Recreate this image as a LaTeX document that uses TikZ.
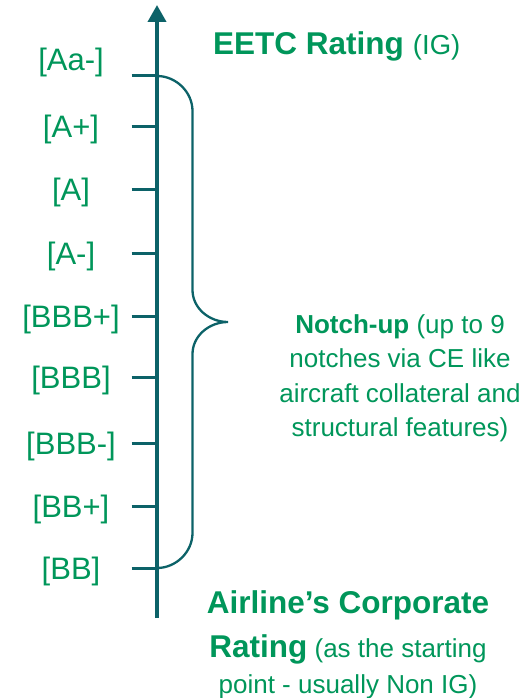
\documentclass[tikz,border=0pt]{standalone}
\usepackage{fontspec}
\setmainfont{Liberation Sans}
\usetikzlibrary{arrows.meta}
\definecolor{axcol}{RGB}{12,98,104}
\definecolor{txtcol}{RGB}{0,150,90}
\begin{document}
\begin{tikzpicture}[x=1pt,y=-1pt,
  lbl/.style={text=txtcol,font=\fontsize{31}{36}\selectfont,anchor=base,inner sep=0pt},
  tickline/.style={draw=axcol,line width=3pt},
  axisline/.style={draw=axcol,line width=3.8pt},
  braceline/.style={draw=axcol,line width=2.3pt},
  txt/.style={text=txtcol,inner sep=0pt},
  big/.style={font=\fontsize{26}{34.5}\selectfont}
]
\useasboundingbox (0,0) rectangle (527,698);
% axis
\coordinate (axb) at (157,618);
\coordinate (axt) at (157,5);
\draw[axisline,-{Triangle[width=18pt,length=17pt]}] (axb) -- (axt);
% ticks and labels
\foreach \n/\y/\by/\t in {1/76/71/{[Aa-]},2/126/137/{[A+]},3/189/200/{[A]},4/253/264/{[A-]},5/316/327/{[BBB+]},6/377/388/{[BBB]},7/443/454/{[BBB-]},8/506/517/{[BB+]},9/568/579/{[BB]}}{
  \coordinate (s\n) at (131.5,\y);
  \coordinate (t\n) at (157,\y);
  \draw[tickline] (s\n) -- (t\n);
  \node[lbl] (l\n) at (71,\by) {\t};
}
% brace
\coordinate (bt) at (228,322);
\draw[braceline] (t1) .. controls (176,76) and (192.5,92) .. (192.5,111)
  -- (192.5,290) .. controls (192.5,308) and (209,322) .. (bt)
  .. controls (209,322) and (192.5,336) .. (192.5,354)
  -- (192.5,533) .. controls (192.5,552) and (176,568) .. (t9);
% texts
\node[txt,anchor=base west] (eetc) at (213,55)
  {{\fontsize{31.5}{36}\selectfont\bfseries EETC Rating}\hspace{9pt}{\fontsize{27.5}{30}\selectfont(IG)}};
\node[txt,big,align=center,anchor=north] (notch) at (400,314)
  {{\bfseries Notch-up} (up to 9\\notches via CE like\\aircraft collateral and\\structural features)};
\node[txt,font=\fontsize{26}{36}\selectfont,align=center,anchor=north] (airline) at (348,590)
  {{\fontsize{31.5}{36}\selectfont\bfseries Airline’s Corporate}\\[8pt]{\fontsize{31.5}{36}\selectfont\bfseries Rating} (as the starting\\point - usually Non IG)};
\end{tikzpicture}
\end{document}
